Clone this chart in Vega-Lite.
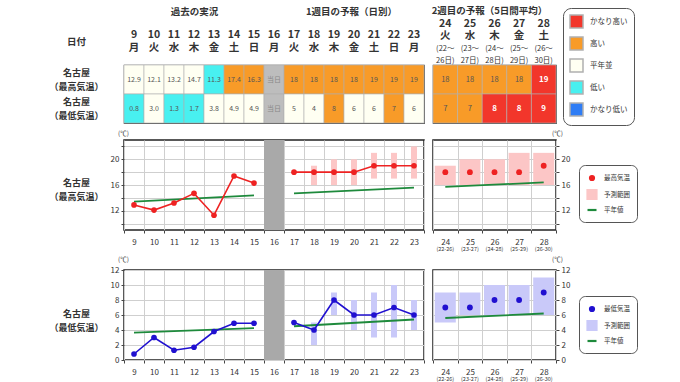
{
"$schema": "https://vega.github.io/schema/vega-lite/v6.json",
"padding": {"left": 48, "top": 4, "right": 5, "bottom": 2},
"background": "white",
"config": {"font": "Noto Sans CJK JP", "title": {"fontSize": 6.5, "fontWeight": "normal", "color": "#333"}, "axis": {"labelColor": "#333", "titleColor": "#333"}, "legend": {"labelColor": "#333"}},
"columns": 2,
"spacing": {"row": 2, "column": 4},
"resolve": {"scale": {"color": "independent", "x": "independent", "y": "independent"}, "legend": {"color": "independent"}},
"datasets": {
"tbl1": [
{"d":"9|月","r":"名古屋|（最高気温）","v":"12.9","c":"平年並"},
{"d":"10|火","r":"名古屋|（最高気温）","v":"12.1","c":"平年並"},
{"d":"11|水","r":"名古屋|（最高気温）","v":"13.2","c":"平年並"},
{"d":"12|木","r":"名古屋|（最高気温）","v":"14.7","c":"平年並"},
{"d":"13|金","r":"名古屋|（最高気温）","v":"11.3","c":"低い"},
{"d":"14|土","r":"名古屋|（最高気温）","v":"17.4","c":"高い"},
{"d":"15|日","r":"名古屋|（最高気温）","v":"16.3","c":"高い"},
{"d":"16|月","r":"名古屋|（最高気温）","v":"当日","c":"当日"},
{"d":"17|火","r":"名古屋|（最高気温）","v":"18","c":"高い"},
{"d":"18|水","r":"名古屋|（最高気温）","v":"18","c":"高い"},
{"d":"19|木","r":"名古屋|（最高気温）","v":"18","c":"高い"},
{"d":"20|金","r":"名古屋|（最高気温）","v":"18","c":"高い"},
{"d":"21|土","r":"名古屋|（最高気温）","v":"19","c":"高い"},
{"d":"22|日","r":"名古屋|（最高気温）","v":"19","c":"高い"},
{"d":"23|月","r":"名古屋|（最高気温）","v":"19","c":"高い"},
{"d":"9|月","r":"名古屋|（最低気温）","v":"0.8","c":"低い"},
{"d":"10|火","r":"名古屋|（最低気温）","v":"3.0","c":"平年並"},
{"d":"11|水","r":"名古屋|（最低気温）","v":"1.3","c":"低い"},
{"d":"12|木","r":"名古屋|（最低気温）","v":"1.7","c":"低い"},
{"d":"13|金","r":"名古屋|（最低気温）","v":"3.8","c":"平年並"},
{"d":"14|土","r":"名古屋|（最低気温）","v":"4.9","c":"平年並"},
{"d":"15|日","r":"名古屋|（最低気温）","v":"4.9","c":"平年並"},
{"d":"16|月","r":"名古屋|（最低気温）","v":"当日","c":"当日"},
{"d":"17|火","r":"名古屋|（最低気温）","v":"5","c":"平年並"},
{"d":"18|水","r":"名古屋|（最低気温）","v":"4","c":"平年並"},
{"d":"19|木","r":"名古屋|（最低気温）","v":"8","c":"高い"},
{"d":"20|金","r":"名古屋|（最低気温）","v":"6","c":"平年並"},
{"d":"21|土","r":"名古屋|（最低気温）","v":"6","c":"平年並"},
{"d":"22|日","r":"名古屋|（最低気温）","v":"7","c":"高い"},
{"d":"23|月","r":"名古屋|（最低気温）","v":"6","c":"平年並"}
],
"tbl2": [
{"d":"24|火|(22～|26日)","r":"max","v":"18","c":"高い"},
{"d":"25|水|(23～|27日)","r":"max","v":"18","c":"高い"},
{"d":"26|木|(24～|28日)","r":"max","v":"18","c":"高い"},
{"d":"27|金|(25～|29日)","r":"max","v":"18","c":"高い"},
{"d":"28|土|(26～|30日)","r":"max","v":"19","c":"かなり高い"},
{"d":"24|火|(22～|26日)","r":"min","v":"7","c":"高い"},
{"d":"25|水|(23～|27日)","r":"min","v":"7","c":"高い"},
{"d":"26|木|(24～|28日)","r":"min","v":"8","c":"かなり高い"},
{"d":"27|金|(25～|29日)","r":"min","v":"8","c":"かなり高い"},
{"d":"28|土|(26～|30日)","r":"min","v":"9","c":"かなり高い"}
],
"gray": [{"day":16}],
"mx1": [{"day":9,"t":12.9,"seg":"p"},{"day":10,"t":12.1,"seg":"p"},{"day":11,"t":13.2,"seg":"p"},{"day":12,"t":14.7,"seg":"p"},{"day":13,"t":11.3,"seg":"p"},{"day":14,"t":17.4,"seg":"p"},{"day":15,"t":16.3,"seg":"p"},{"day":17,"t":18,"seg":"f"},{"day":18,"t":18,"seg":"f"},{"day":19,"t":18,"seg":"f"},{"day":20,"t":18,"seg":"f"},{"day":21,"t":19,"seg":"f"},{"day":22,"t":19,"seg":"f"},{"day":23,"t":19,"seg":"f"}],
"mxr1": [{"day":18,"lo":16,"hi":19},{"day":19,"lo":16,"hi":20},{"day":20,"lo":16,"hi":20},{"day":21,"lo":17,"hi":21},{"day":22,"lo":17,"hi":21},{"day":23,"lo":17,"hi":22}],
"mxn1": [{"day":9,"n":13.4,"seg":"p"},{"day":15,"n":14.4,"seg":"p"},{"day":17,"n":14.7,"seg":"f"},{"day":23,"n":15.6,"seg":"f"}],
"mx2": [{"d":"24|(22-26)","t":18,"lo":16,"hi":19},{"d":"25|(23-27)","t":18,"lo":16,"hi":20},{"d":"26|(24-28)","t":18,"lo":16,"hi":20},{"d":"27|(25-29)","t":18,"lo":16,"hi":21},{"d":"28|(26-30)","t":19,"lo":16,"hi":21}],
"mxn2": [{"d":"24|(22-26)","n":15.7},{"d":"28|(26-30)","n":16.4}],
"mn1": [{"day":9,"t":0.8,"seg":"p"},{"day":10,"t":3.0,"seg":"p"},{"day":11,"t":1.3,"seg":"p"},{"day":12,"t":1.7,"seg":"p"},{"day":13,"t":3.8,"seg":"p"},{"day":14,"t":4.9,"seg":"p"},{"day":15,"t":4.9,"seg":"p"},{"day":17,"t":5,"seg":"f"},{"day":18,"t":4,"seg":"f"},{"day":19,"t":8,"seg":"f"},{"day":20,"t":6,"seg":"f"},{"day":21,"t":6,"seg":"f"},{"day":22,"t":7,"seg":"f"},{"day":23,"t":6,"seg":"f"}],
"mnr1": [{"day":18,"lo":2,"hi":5},{"day":19,"lo":6,"hi":9},{"day":20,"lo":4,"hi":8},{"day":21,"lo":3,"hi":9},{"day":22,"lo":3,"hi":10},{"day":23,"lo":4,"hi":8}],
"mnn1": [{"day":9,"n":3.65,"seg":"p"},{"day":15,"n":4.24,"seg":"p"},{"day":17,"n":4.5,"seg":"f"},{"day":23,"n":5.4,"seg":"f"}],
"mn2": [{"d":"24|(22-26)","t":7,"lo":5,"hi":9},{"d":"25|(23-27)","t":7,"lo":6,"hi":9},{"d":"26|(24-28)","t":8,"lo":6,"hi":10},{"d":"27|(25-29)","t":8,"lo":6,"hi":10},{"d":"28|(26-30)","t":9,"lo":6,"hi":11}],
"mnn2": [{"d":"24|(22-26)","n":5.6},{"d":"28|(26-30)","n":6.2}]
},
"concat": [
{
 "width": 300, "height": 58,
 "view": {"stroke": "#555", "strokeWidth": 1.2},
 "data": {"name": "tbl1"},
 "layer": [
  {"mark": {"type": "rect", "stroke": "#b0b0b0", "strokeWidth": 0.6},
   "encoding": {
    "x": {"field": "d", "type": "ordinal", "sort": null, "scale": {"paddingInner": 0, "paddingOuter": 0},
      "axis": {"orient": "top", "labelExpr": "split(datum.label, '|')", "labelFontSize": 10.5, "labelFontWeight": "bold", "labelLineHeight": 13, "labelPadding": 26, "labelAngle": 0, "labelBaseline": "bottom", "labelOverlap": false, "ticks": false, "tickSize": 0, "domain": false, "grid": false,
        "title": "過去の実況", "titleX": 70, "titleY": -54, "titleAlign": "center", "titleBaseline": "middle", "titleFontSize": 9.5, "titleFontWeight": "bold"}},
    "y": {"field": "r", "type": "ordinal", "sort": null, "scale": {"paddingInner": 0, "paddingOuter": 0},
      "axis": {"orient": "left", "labelExpr": "split(datum.label, '|')", "labelFontSize": 9, "labelFontWeight": "bold", "labelLineHeight": 14, "labelAlign": "center", "labelBaseline": "middle", "labelPadding": 48, "labelOffset": -7, "ticks": false, "tickSize": 0, "domain": false, "grid": false,
        "title": "日付", "titleAngle": 0, "titleX": -48, "titleY": -24, "titleAlign": "center", "titleBaseline": "middle", "titleFontSize": 9.5, "titleFontWeight": "bold"}},
    "color": {"field": "c", "type": "nominal", "scale": {"domain": ["かなり高い","高い","平年並","低い","かなり低い","当日"], "range": ["#f2362b","#f89b28","#fffff2","#48f0f0","#2f7df5","#bdbdbd"]}, "legend": null}
   }},
  {"mark": {"type": "text", "fontSize": 7},
   "encoding": {
    "x": {"field": "d", "type": "ordinal", "sort": null,
      "axis": {"orient": "top", "labels": false, "ticks": false, "tickSize": 0, "domain": false, "grid": false,
        "title": "1週目の予報（日別）", "titleX": 227, "titleY": -54, "titleAlign": "center", "titleBaseline": "middle", "titleFontSize": 9.5, "titleFontWeight": "bold"}},
    "y": {"field": "r", "type": "ordinal", "sort": null, "axis": null},
    "text": {"field": "v"},
    "color": {"condition": {"test": "datum.c === '当日'", "value": "#888"}, "value": "#555"}
   }}
 ],
 "resolve": {"axis": {"x": "independent", "y": "independent"}}
},
{
 "width": 123, "height": 58,
 "view": {"stroke": "#555", "strokeWidth": 1.2},
 "data": {"name": "tbl2"},
 "layer": [
  {"mark": {"type": "rect", "stroke": "#b0b0b0", "strokeWidth": 0.6},
   "encoding": {
    "x": {"field": "d", "type": "ordinal", "sort": null, "scale": {"paddingInner": 0, "paddingOuter": 0},
      "axis": {"orient": "top", "labelExpr": "[split(datum.label, '|')[0], split(datum.label, '|')[1]]", "labelFontSize": 10.5, "labelFontWeight": "bold", "labelLineHeight": 12, "labelPadding": 36.5, "labelAngle": 0, "labelBaseline": "bottom", "labelOverlap": false, "ticks": false, "tickSize": 0, "domain": false, "grid": false,
        "title": "2週目の予報（5日間平均）", "titleX": 56, "titleY": -55, "titleAlign": "center", "titleBaseline": "middle", "titleFontSize": 9.5, "titleFontWeight": "bold"}},
    "y": {"field": "r", "type": "ordinal", "sort": null, "scale": {"paddingInner": 0, "paddingOuter": 0}, "axis": null},
    "color": {"field": "c", "type": "nominal", "scale": {"domain": ["かなり高い","高い","平年並","低い","かなり低い"], "range": ["#f2362b","#f89b28","#fffff2","#48f0f0","#2f7df5"]},
      "legend": {"orient": "none", "legendX": 130, "legendY": -57, "title": null, "padding": 6, "strokeColor": "#555", "cornerRadius": 8, "fillColor": "white", "symbolType": "square", "symbolSize": 169, "labelFontSize": 7.5, "labelOffset": 6, "rowPadding": 3,
        "encode": {"symbols": {"update": {"stroke": {"value": "#777"}, "strokeWidth": {"value": 0.6}, "opacity": {"value": 1}}}}}}
   }},
  {"transform": [{"filter": "datum.c !== 'かなり高い'"}],
   "mark": {"type": "text", "fontSize": 7.5, "color": "#555"},
   "encoding": {
    "x": {"field": "d", "type": "ordinal", "sort": null,
      "axis": {"orient": "top", "labelExpr": "[split(datum.label, '|')[2], split(datum.label, '|')[3]]", "labelFontSize": 7.5, "labelLineHeight": 12, "labelPadding": 13, "labelAngle": 0, "labelBaseline": "bottom", "labelOverlap": false, "ticks": false, "tickSize": 0, "domain": false, "grid": false, "title": null}},
    "y": {"field": "r", "type": "ordinal", "sort": null, "axis": null},
    "text": {"field": "v"}
   }},
  {"transform": [{"filter": "datum.c === 'かなり高い'"}],
   "mark": {"type": "text", "fontSize": 8, "fontWeight": "bold", "color": "white"},
   "encoding": {
    "x": {"field": "d", "type": "ordinal", "sort": null, "axis": null},
    "y": {"field": "r", "type": "ordinal", "sort": null, "axis": null},
    "text": {"field": "v"}
   }}
 ],
 "resolve": {"axis": {"x": "independent", "y": "independent"}}
},
{
 "width": 300, "height": 90,
 "view": {"stroke": "#222", "strokeWidth": 1.5},
 "title": {"text": "(℃)", "anchor": "start", "frame": "group", "dx": -6, "offset": 3},
 "layer": [
  {"data": {"name": "gray"},
   "mark": {"type": "bar", "color": "#a9a9a9"},
   "encoding": {
    "x": {"field": "day", "type": "ordinal", "scale": {"type": "band", "domain": [9,10,11,12,13,14,15,16,17,18,19,20,21,22,23], "paddingInner": 0, "paddingOuter": 0},
      "axis": {"tickBand": "extent", "grid": true, "gridColor": "#cfcfcf", "ticks": true, "tickSize": 3, "tickColor": "#444", "labelFontSize": 8, "labelPadding": 5, "labelAngle": 0, "domain": false, "title": null}},
    "y": {"datum": 23, "type": "quantitative", "scale": {"domain": [9, 23], "nice": false, "zero": false},
      "axis": {"values": [10,12,14,16,18,20,22], "labelExpr": "datum.value % 4 == 0 ? datum.label : ''", "grid": true, "gridColor": "#cfcfcf", "tickSize": 3, "tickColor": "#444", "labelFontSize": 8, "labelPadding": 2, "domain": false,
        "title": ["名古屋", "（最高気温）"], "titleAngle": 0, "titleX": -48, "titleY": 42, "titleAlign": "center", "titleBaseline": "middle", "titleFontSize": 9, "titleFontWeight": "bold", "titleLineHeight": 14}},
    "y2": {"datum": 9}
   }},
  {"data": {"name": "mxr1"},
   "mark": {"type": "bar", "size": 6, "color": "#fcc6c6"},
   "encoding": {
    "x": {"field": "day", "type": "ordinal", "scale": {"type": "band", "domain": [9,10,11,12,13,14,15,16,17,18,19,20,21,22,23], "paddingInner": 0, "paddingOuter": 0}, "axis": null},
    "y": {"field": "lo", "type": "quantitative", "scale": {"domain": [9, 23], "nice": false, "zero": false}, "axis": null},
    "y2": {"field": "hi"}
   }},
  {"data": {"name": "mxn1"},
   "mark": {"type": "line", "color": "#1e8a3c", "strokeWidth": 1.8},
   "encoding": {
    "x": {"field": "day", "type": "ordinal", "scale": {"type": "band", "domain": [9,10,11,12,13,14,15,16,17,18,19,20,21,22,23], "paddingInner": 0, "paddingOuter": 0}, "axis": null},
    "y": {"field": "n", "type": "quantitative", "scale": {"domain": [9, 23], "nice": false, "zero": false}, "axis": null},
    "detail": {"field": "seg"}
   }},
  {"data": {"name": "mx1"},
   "mark": {"type": "line", "color": "#ee2222", "strokeWidth": 1.6, "point": {"filled": true, "size": 32, "color": "#ee2222"}},
   "encoding": {
    "x": {"field": "day", "type": "ordinal", "scale": {"type": "band", "domain": [9,10,11,12,13,14,15,16,17,18,19,20,21,22,23], "paddingInner": 0, "paddingOuter": 0}, "axis": null},
    "y": {"field": "t", "type": "quantitative", "scale": {"domain": [9, 23], "nice": false, "zero": false}, "axis": null},
    "detail": {"field": "seg"}
   }}
 ],
 "resolve": {"axis": {"x": "independent", "y": "independent"}}
},
{
 "width": 123, "height": 90,
 "view": {"stroke": "#222", "strokeWidth": 1.5},
 "title": {"text": "(℃)", "anchor": "end", "frame": "group", "dx": 7, "offset": 3},
 "layer": [
  {"data": {"name": "mx2"},
   "mark": {"type": "bar", "size": 21},
   "encoding": {
    "x": {"field": "d", "type": "ordinal", "scale": {"type": "band", "domain": ["24|(22-26)","25|(23-27)","26|(24-28)","27|(25-29)","28|(26-30)"], "paddingInner": 0, "paddingOuter": 0},
      "axis": {"orient": "bottom", "tickBand": "extent", "grid": true, "gridColor": "#cfcfcf", "ticks": true, "tickSize": 3, "tickColor": "#444", "labelExpr": "split(datum.label, '|')[0]", "labelFontSize": 8, "labelPadding": 5, "labelAngle": 0, "domain": false, "title": null}},
    "y": {"field": "lo", "type": "quantitative", "scale": {"domain": [9, 23], "nice": false, "zero": false},
      "axis": {"orient": "right", "values": [10,12,14,16,18,20,22], "labelExpr": "datum.value % 4 == 0 ? datum.label : ''", "grid": true, "gridColor": "#cfcfcf", "tickSize": 3, "tickColor": "#444", "labelFontSize": 8, "labelPadding": 2, "domain": false, "title": null}},
    "y2": {"field": "hi"},
    "color": {"datum": "予測範囲", "type": "nominal", "scale": {"domain": ["最高気温","予測範囲","平年値"], "range": ["#ee2222","#fcc6c6","#1e8a3c"]},
      "legend": {"orient": "none", "legendX": 146, "legendY": 25, "title": null, "padding": 7, "strokeColor": "#555", "cornerRadius": 6, "fillColor": "white", "labelFontSize": 6.5, "labelOffset": 6, "rowPadding": 0.5, "symbolSize": 81,
        "encode": {"symbols": {"update": {
          "shape": {"signal": "datum.value === '平年値' ? 'stroke' : datum.value === '予測範囲' ? 'square' : 'circle'"},
          "fill": {"signal": "datum.value === '平年値' ? 'transparent' : datum.value === '予測範囲' ? '#fcc6c6' : '#ee2222'"},
          "stroke": {"signal": "datum.value === '平年値' ? '#1e8a3c' : 'transparent'"},
          "strokeWidth": {"value": 2.2},
          "size": {"signal": "datum.value === '最高気温' ? 16 : 81"},
          "opacity": {"value": 1}}}}}}
   }},
  {"data": {"name": "mxn2"},
   "mark": {"type": "line", "strokeWidth": 1.8},
   "encoding": {
    "x": {"field": "d", "type": "ordinal", "scale": {"type": "band", "domain": ["24|(22-26)","25|(23-27)","26|(24-28)","27|(25-29)","28|(26-30)"], "paddingInner": 0, "paddingOuter": 0},
      "axis": {"orient": "bottom", "grid": false, "ticks": false, "tickSize": 0, "labelExpr": "split(datum.label, '|')[1]", "labelFontSize": 5.5, "labelPadding": 16, "labelAngle": 0, "domain": false, "title": null}},
    "y": {"field": "n", "type": "quantitative", "scale": {"domain": [9, 23], "nice": false, "zero": false}, "axis": null},
    "color": {"datum": "平年値", "type": "nominal", "scale": {"domain": ["最高気温","予測範囲","平年値"], "range": ["#ee2222","#fcc6c6","#1e8a3c"]}}
   }},
  {"data": {"name": "mx2"},
   "mark": {"type": "point", "filled": true, "size": 34, "opacity": 1},
   "encoding": {
    "x": {"field": "d", "type": "ordinal", "scale": {"type": "band", "domain": ["24|(22-26)","25|(23-27)","26|(24-28)","27|(25-29)","28|(26-30)"], "paddingInner": 0, "paddingOuter": 0}, "axis": null},
    "y": {"field": "t", "type": "quantitative", "scale": {"domain": [9, 23], "nice": false, "zero": false}, "axis": null},
    "color": {"datum": "最高気温", "type": "nominal", "scale": {"domain": ["最高気温","予測範囲","平年値"], "range": ["#ee2222","#fcc6c6","#1e8a3c"]}}
   }}
 ],
 "resolve": {"axis": {"x": "independent", "y": "independent"}}
},
{
 "width": 300, "height": 90,
 "view": {"stroke": "#222", "strokeWidth": 1.5},
 "title": {"text": "(℃)", "anchor": "start", "frame": "group", "dx": -6, "offset": 3},
 "layer": [
  {"data": {"name": "gray"},
   "mark": {"type": "bar", "color": "#a9a9a9"},
   "encoding": {
    "x": {"field": "day", "type": "ordinal", "scale": {"type": "band", "domain": [9,10,11,12,13,14,15,16,17,18,19,20,21,22,23], "paddingInner": 0, "paddingOuter": 0},
      "axis": {"tickBand": "extent", "grid": true, "gridColor": "#cfcfcf", "ticks": true, "tickSize": 3, "tickColor": "#444", "labelFontSize": 8, "labelPadding": 5, "labelAngle": 0, "domain": false, "title": null}},
    "y": {"datum": 12, "type": "quantitative", "scale": {"domain": [0, 12], "nice": false, "zero": false},
      "axis": {"values": [0,2,4,6,8,10,12], "grid": true, "gridColor": "#cfcfcf", "tickSize": 3, "tickColor": "#444", "labelFontSize": 8, "labelPadding": 2, "domain": false,
        "title": ["名古屋", "（最低気温）"], "titleAngle": 0, "titleX": -48, "titleY": 43, "titleAlign": "center", "titleBaseline": "middle", "titleFontSize": 9, "titleFontWeight": "bold", "titleLineHeight": 14}},
    "y2": {"datum": 0}
   }},
  {"data": {"name": "mnr1"},
   "mark": {"type": "bar", "size": 6, "color": "#c9c9f9"},
   "encoding": {
    "x": {"field": "day", "type": "ordinal", "scale": {"type": "band", "domain": [9,10,11,12,13,14,15,16,17,18,19,20,21,22,23], "paddingInner": 0, "paddingOuter": 0}, "axis": null},
    "y": {"field": "lo", "type": "quantitative", "scale": {"domain": [0, 12], "nice": false, "zero": false}, "axis": null},
    "y2": {"field": "hi"}
   }},
  {"data": {"name": "mnn1"},
   "mark": {"type": "line", "color": "#1e8a3c", "strokeWidth": 1.8},
   "encoding": {
    "x": {"field": "day", "type": "ordinal", "scale": {"type": "band", "domain": [9,10,11,12,13,14,15,16,17,18,19,20,21,22,23], "paddingInner": 0, "paddingOuter": 0}, "axis": null},
    "y": {"field": "n", "type": "quantitative", "scale": {"domain": [0, 12], "nice": false, "zero": false}, "axis": null},
    "detail": {"field": "seg"}
   }},
  {"data": {"name": "mn1"},
   "mark": {"type": "line", "color": "#2010d0", "strokeWidth": 1.6, "point": {"filled": true, "size": 32, "color": "#2010d0"}},
   "encoding": {
    "x": {"field": "day", "type": "ordinal", "scale": {"type": "band", "domain": [9,10,11,12,13,14,15,16,17,18,19,20,21,22,23], "paddingInner": 0, "paddingOuter": 0}, "axis": null},
    "y": {"field": "t", "type": "quantitative", "scale": {"domain": [0, 12], "nice": false, "zero": false}, "axis": null},
    "detail": {"field": "seg"}
   }}
 ],
 "resolve": {"axis": {"x": "independent", "y": "independent"}}
},
{
 "width": 123, "height": 90,
 "view": {"stroke": "#222", "strokeWidth": 1.5},
 "title": {"text": "(℃)", "anchor": "end", "frame": "group", "dx": 7, "offset": 3},
 "layer": [
  {"data": {"name": "mn2"},
   "mark": {"type": "bar", "size": 21},
   "encoding": {
    "x": {"field": "d", "type": "ordinal", "scale": {"type": "band", "domain": ["24|(22-26)","25|(23-27)","26|(24-28)","27|(25-29)","28|(26-30)"], "paddingInner": 0, "paddingOuter": 0},
      "axis": {"orient": "bottom", "tickBand": "extent", "grid": true, "gridColor": "#cfcfcf", "ticks": true, "tickSize": 3, "tickColor": "#444", "labelExpr": "split(datum.label, '|')[0]", "labelFontSize": 8, "labelPadding": 5, "labelAngle": 0, "domain": false, "title": null}},
    "y": {"field": "lo", "type": "quantitative", "scale": {"domain": [0, 12], "nice": false, "zero": false},
      "axis": {"orient": "right", "values": [0,2,4,6,8,10,12], "grid": true, "gridColor": "#cfcfcf", "tickSize": 3, "tickColor": "#444", "labelFontSize": 8, "labelPadding": 2, "domain": false, "title": null}},
    "y2": {"field": "hi"},
    "color": {"datum": "予測範囲", "type": "nominal", "scale": {"domain": ["最低気温","予測範囲","平年値"], "range": ["#2010d0","#c9c9f9","#1e8a3c"]},
      "legend": {"orient": "none", "legendX": 146, "legendY": 26, "title": null, "padding": 7, "strokeColor": "#555", "cornerRadius": 6, "fillColor": "white", "labelFontSize": 6.5, "labelOffset": 6, "rowPadding": 0.5, "symbolSize": 81,
        "encode": {"symbols": {"update": {
          "shape": {"signal": "datum.value === '平年値' ? 'stroke' : datum.value === '予測範囲' ? 'square' : 'circle'"},
          "fill": {"signal": "datum.value === '平年値' ? 'transparent' : datum.value === '予測範囲' ? '#c9c9f9' : '#2010d0'"},
          "stroke": {"signal": "datum.value === '平年値' ? '#1e8a3c' : 'transparent'"},
          "strokeWidth": {"value": 2.2},
          "size": {"signal": "datum.value === '最低気温' ? 16 : 81"},
          "opacity": {"value": 1}}}}}}
   }},
  {"data": {"name": "mnn2"},
   "mark": {"type": "line", "strokeWidth": 1.8},
   "encoding": {
    "x": {"field": "d", "type": "ordinal", "scale": {"type": "band", "domain": ["24|(22-26)","25|(23-27)","26|(24-28)","27|(25-29)","28|(26-30)"], "paddingInner": 0, "paddingOuter": 0},
      "axis": {"orient": "bottom", "grid": false, "ticks": false, "tickSize": 0, "labelExpr": "split(datum.label, '|')[1]", "labelFontSize": 5.5, "labelPadding": 16, "labelAngle": 0, "domain": false, "title": null}},
    "y": {"field": "n", "type": "quantitative", "scale": {"domain": [0, 12], "nice": false, "zero": false}, "axis": null},
    "color": {"datum": "平年値", "type": "nominal", "scale": {"domain": ["最低気温","予測範囲","平年値"], "range": ["#2010d0","#c9c9f9","#1e8a3c"]}}
   }},
  {"data": {"name": "mn2"},
   "mark": {"type": "point", "filled": true, "size": 34, "opacity": 1},
   "encoding": {
    "x": {"field": "d", "type": "ordinal", "scale": {"type": "band", "domain": ["24|(22-26)","25|(23-27)","26|(24-28)","27|(25-29)","28|(26-30)"], "paddingInner": 0, "paddingOuter": 0}, "axis": null},
    "y": {"field": "t", "type": "quantitative", "scale": {"domain": [0, 12], "nice": false, "zero": false}, "axis": null},
    "color": {"datum": "最低気温", "type": "nominal", "scale": {"domain": ["最低気温","予測範囲","平年値"], "range": ["#2010d0","#c9c9f9","#1e8a3c"]}}
   }}
 ],
 "resolve": {"axis": {"x": "independent", "y": "independent"}}
}
]
}
